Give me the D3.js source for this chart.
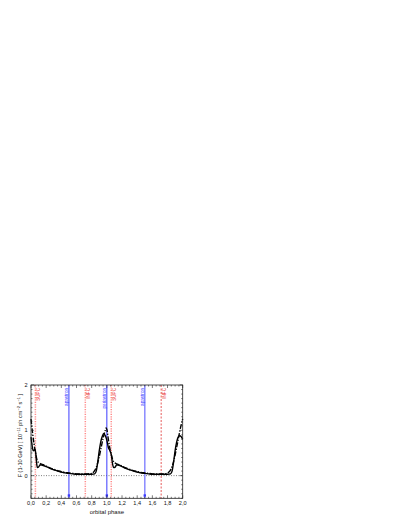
<!DOCTYPE html>
<html><head><meta charset="utf-8">
<script src="https://cdnjs.cloudflare.com/ajax/libs/d3/7.8.5/d3.min.js"></script>
<style>body{margin:0;background:#fff}svg{display:block}text{font-family:"Liberation Sans",Arial,sans-serif}</style>
</head><body><svg id="c" width="407" height="527"></svg>
<script>
// Data
const solidPhase = [0.00,0.01,0.02,0.03,0.045,0.055,0.065,0.075,0.085,0.10,0.12,0.15,0.20,0.25,0.30,0.35,0.40,0.45,0.50,0.55,0.60,0.65,0.70,0.75,0.80,0.84,0.86,0.88,0.90,0.92,0.94,0.96,0.98,1.00,1.02,1.04,1.06,1.075,1.09,1.11,1.13,1.16,1.20,1.25,1.30,1.35,1.40,1.45,1.50,1.55,1.60,1.65,1.70,1.75,1.80,1.84,1.86,1.88,1.90,1.92,1.94,1.96,1.98,2.00];
const solidFlux  = [0.85,0.72,0.60,0.55,0.57,0.58,0.45,0.26,0.18,0.19,0.24,0.23,0.20,0.16,0.13,0.10,0.08,0.06,0.05,0.04,0.03,0.03,0.03,0.03,0.03,0.04,0.10,0.30,0.55,0.75,0.87,0.93,0.88,0.78,0.62,0.55,0.45,0.26,0.18,0.19,0.24,0.23,0.20,0.16,0.13,0.10,0.08,0.06,0.05,0.04,0.03,0.03,0.03,0.03,0.03,0.04,0.10,0.30,0.55,0.74,0.85,0.88,0.86,0.80];
const dashPhase  = [0.00,0.02,0.04,0.06,0.08,0.10,0.13,0.16,0.20,0.25,0.30,0.35,0.40,0.45,0.50,0.55,0.60,0.65,0.70,0.75,0.80,0.83,0.86,0.89,0.92,0.95,0.98,0.99,1.00,1.02,1.04,1.06,1.08,1.10,1.13,1.16,1.20,1.25,1.30,1.35,1.40,1.45,1.50,1.55,1.60,1.65,1.70,1.75,1.80,1.83,1.86,1.89,1.92,1.95,1.98,2.00];
const dashFlux   = [1.25,0.95,0.70,0.50,0.34,0.29,0.26,0.24,0.21,0.17,0.14,0.11,0.09,0.07,0.06,0.05,0.04,0.04,0.04,0.04,0.05,0.09,0.18,0.35,0.58,0.82,1.00,1.05,1.02,0.80,0.60,0.45,0.34,0.29,0.26,0.24,0.21,0.17,0.14,0.11,0.09,0.07,0.06,0.05,0.04,0.04,0.04,0.04,0.06,0.10,0.20,0.38,0.62,0.88,1.12,1.25];
const eventPhase = [0.058,0.5,0.716,1.0,1.058,1.5,1.716];
const eventLabel = ["SUPC","apastron","INFC","periastron","SUPC","apastron","INFC"];
const eventKind  = ["conj","aps","conj","aps","conj","aps","conj2"];
const xTicks = [0,0.2,0.4,0.6,0.8,1.0,1.2,1.4,1.6,1.8,2.0];
const yTicks = [0,1,2];

const svg = d3.select("#c");
const L=31, R=182.7, T=385, B=498.3;
const x = d3.scaleLinear().domain([0,2]).range([L,R]);
const y = d3.scaleLinear().domain([-0.5,2]).range([B,T]);
const fmt = d => d.toFixed(1).replace(".",",");

// zero line
svg.append("line").attr("x1",L).attr("x2",R).attr("y1",y(0)).attr("y2",y(0))
  .attr("stroke","#444").attr("stroke-width",0.7).attr("stroke-dasharray","1,1.5");

// event lines
const styles = {
  conj:{stroke:"#ff8c8c",w:1.5,dash:"1.2,1.2"},
  conj2:{stroke:"#e03030",w:0.8,dash:"2,1.5"},
  aps:{stroke:"#3b3bff",w:1,dash:null}
};
eventPhase.forEach((p,i)=>{
  const s = styles[eventKind[i]];
  let stroke=s.stroke, w=s.w;
  if(p===1.5){stroke="#8f8fff"; w=1.6;}
  const ln = svg.append("line").attr("x1",x(p)).attr("x2",x(p)).attr("y1",T).attr("y2",B)
    .attr("stroke",stroke).attr("stroke-width",w);
  if(s.dash) ln.attr("stroke-dasharray",s.dash);
  const blue = eventKind[i]==="aps";
  if(blue){
    svg.append("rect").attr("x",x(p)-1.2).attr("y",B-4).attr("width",2.4).attr("height",2.4).attr("fill","#3b3bff");
  }
  const tx = blue ? x(p)-1.2 : x(p)+5;
  svg.append("text").attr("transform",`translate(${tx},${T+3}) rotate(-90)`)
    .attr("text-anchor","end").attr("font-size",4.6)
    .attr("fill", blue ? "#3b3bff" : "#e83030").text(eventLabel[i]);
});

// curves
const line = d3.line().x(d=>x(d[0])).y(d=>y(d[1])).curve(d3.curveMonotoneX);
svg.append("path").datum(solidPhase.map((p,i)=>[p,solidFlux[i]])).attr("d",line)
  .attr("fill","none").attr("stroke","#000").attr("stroke-width",1.4);
svg.append("path").datum(dashPhase.map((p,i)=>[p,dashFlux[i]])).attr("d",line)
  .attr("fill","none").attr("stroke","#000").attr("stroke-width",1.4).attr("stroke-dasharray","5,1.5,1.2,1.5");

// frame
svg.append("rect").attr("x",L).attr("y",T).attr("width",R-L).attr("height",B-T)
  .attr("fill","none").attr("stroke","#222").attr("stroke-width",0.8);

// ticks
const g = svg.append("g").attr("stroke","#222").attr("stroke-width",0.6);
d3.range(0,2.0001,0.05).forEach(v=>{
  const major = xTicks.some(t=>Math.abs(t-v)<1e-6);
  const len = major?3:1.5;
  g.append("line").attr("x1",x(v)).attr("x2",x(v)).attr("y1",B).attr("y2",B-len);
  g.append("line").attr("x1",x(v)).attr("x2",x(v)).attr("y1",T).attr("y2",T+len);
});
d3.range(-0.5,2.0001,0.1).forEach(v=>{
  const major = yTicks.some(t=>Math.abs(t-v)<1e-6);
  const len = major?3:1.5;
  g.append("line").attr("x1",L).attr("x2",L+len).attr("y1",y(v)).attr("y2",y(v));
  g.append("line").attr("x1",R).attr("x2",R-len).attr("y1",y(v)).attr("y2",y(v));
});

// tick labels
svg.selectAll(".xl").data(xTicks).enter().append("text")
  .attr("x",d=>x(d)).attr("y",B+6.5).attr("text-anchor","middle").attr("font-size",5.6).attr("fill","#111").text(fmt);
svg.selectAll(".yl").data(yTicks).enter().append("text")
  .attr("x",L-3.5).attr("y",d=>y(d)+2).attr("text-anchor","end").attr("font-size",5.6).attr("fill","#111").text(d=>d);

// axis titles
svg.append("text").attr("x",(L+R)/2).attr("y",B+16).attr("text-anchor","middle")
  .attr("font-size",6).attr("fill","#111").text("orbital phase");
const yt = svg.append("text").attr("transform",`translate(22,${(T+B)/2-6}) rotate(-90)`)
  .attr("text-anchor","middle").attr("font-size",5.6).attr("fill","#111");
yt.append("tspan").text("F (1-10 GeV) [ 10");
yt.append("tspan").attr("font-size",4).attr("dy",-2).text("−11");
yt.append("tspan").attr("dy",2).text(" ph cm");
yt.append("tspan").attr("font-size",4).attr("dy",-2).text("−2");
yt.append("tspan").attr("dy",2).text(" s");
yt.append("tspan").attr("font-size",4).attr("dy",-2).text("−1");
yt.append("tspan").attr("dy",2).text(" ]");
</script></body></html>
